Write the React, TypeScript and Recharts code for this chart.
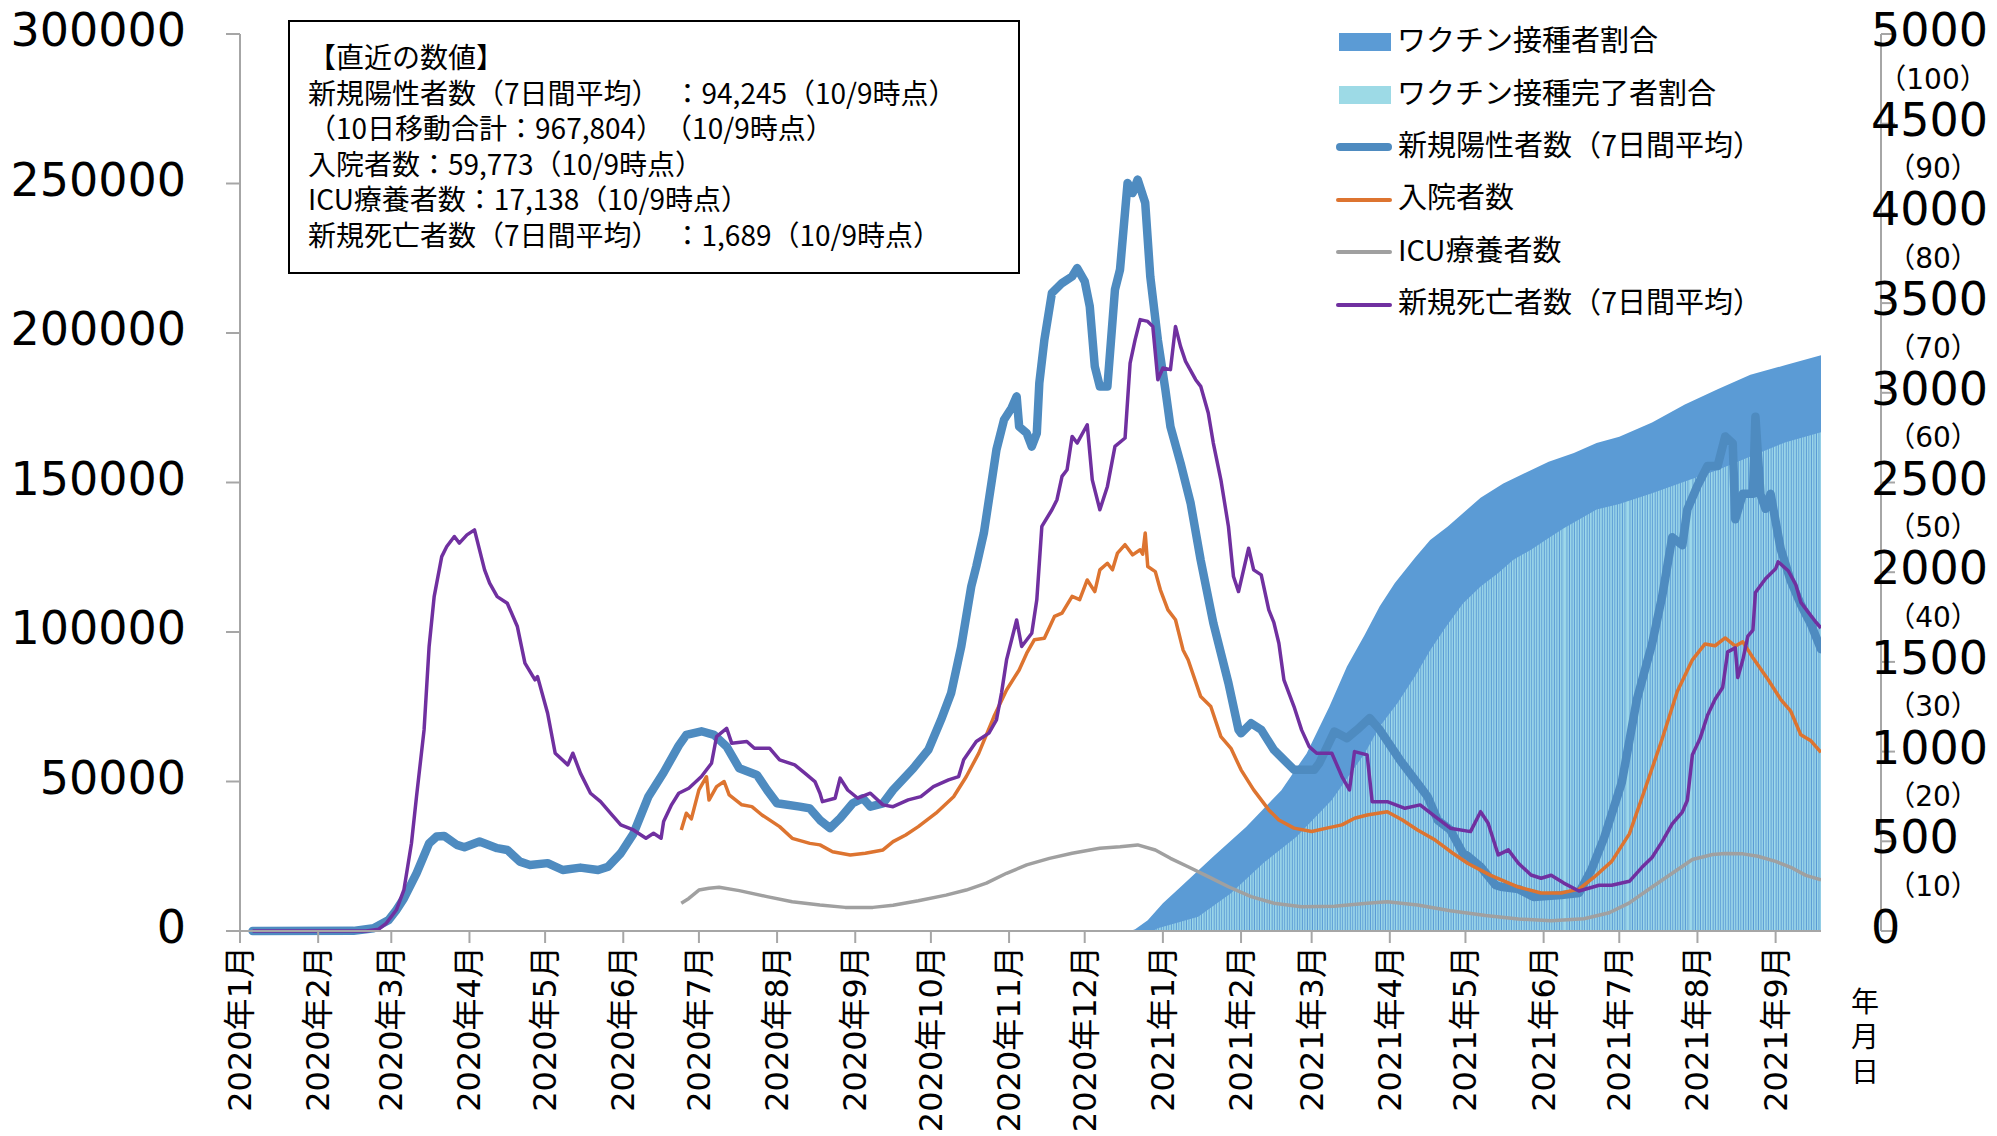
import React from 'react';
import { ComposedChart, Line, Area, XAxis, YAxis } from 'recharts';

// x = days counted from 2020-01-01
const monthTicks = [0, 31, 60, 91, 121, 152, 182, 213, 244, 274, 305, 335, 366, 397, 425, 456, 486, 517, 547, 578, 609];
const monthLabels = [
  '2020年1月', '2020年2月', '2020年3月', '2020年4月', '2020年5月', '2020年6月', '2020年7月',
  '2020年8月', '2020年9月', '2020年10月', '2020年11月', '2020年12月', '2021年1月', '2021年2月',
  '2021年3月', '2021年4月', '2021年5月', '2021年6月', '2021年7月', '2021年8月', '2021年9月',
];
const leftTicks = [0, 50000, 100000, 150000, 200000, 250000, 300000];
const rightTicks = [0, 500, 1000, 1500, 2000, 2500, 3000, 3500, 4000, 4500, 5000];
const pctLabels = ['', '（10）', '（20）', '（30）', '（40）', '（50）', '（60）', '（70）', '（80）', '（90）', '（100）'];

// 新規陽性者数（7日間平均） [day, value]
const casesPts = [
  [5, 0], [45, 50], [53, 900], [59, 3700], [62, 7000], [65, 10900], [70, 19300], [75, 29300], [78, 31600],
  [81, 31800], [86, 28800], [89, 28000], [95, 29900], [102, 27700], [106, 27100], [111, 23200], [115, 22100],
  [122, 22700], [128, 20400], [135, 21200], [142, 20400], [146, 21500], [151, 26000], [156, 32500],
  [162, 45000], [168, 53000], [174, 62000], [177, 65600], [183, 66800], [188, 65600], [193, 61700],
  [198, 54400], [205, 52200], [209, 47200], [213, 42700], [222, 41600], [226, 41000], [230, 37100],
  [234, 34400], [238, 37700], [243, 42700], [247, 44400], [250, 41600], [255, 42700], [259, 47200],
  [267, 54400], [273, 60600], [278, 70600], [282, 79500], [286, 95000], [290, 115200], [292, 121900],
  [295, 133100], [298, 149800], [300, 161000], [303, 171000], [306, 174900], [308, 178800], [309, 168700],
  [312, 166500], [314, 162000], [316, 166500], [317, 183300], [319, 197700], [322, 213400], [326, 216700],
  [330, 218900], [332, 221700], [335, 217300], [337, 208900], [339, 188800], [341, 182100], [344, 182100],
  [347, 214500], [349, 221200], [352, 250200], [354, 246800], [356, 251300], [359, 243500], [361, 218900],
  [364, 197700], [367, 181000], [369, 168700], [373, 156500], [377, 143100], [381, 124000], [386, 103000],
  [392, 82900], [396, 67300], [397, 66100], [401, 69500], [405, 67300], [410, 60600], [418, 53900],
  [426, 53900], [428, 56100], [434, 66700], [439, 64500], [443, 67300], [448, 71200], [452, 67300],
  [460, 57200], [468, 48300], [471, 44900], [475, 37100], [480, 33800], [485, 26000], [487, 25000],
  [492, 21500], [498, 15300], [500, 14800], [507, 14000], [513, 11400], [524, 12000], [531, 12700],
  [536, 20600], [541, 31200], [548, 49700], [554, 77500], [560, 96000], [564, 111900], [568, 131700],
  [572, 129000], [574, 141000], [578, 148900], [582, 155500], [586, 155500], [589, 165400], [592, 163100],
  [593, 137700], [596, 146200], [600, 146200], [601, 172000], [603, 146000], [605, 141200], [607, 146200],
  [611, 127800], [615, 117100], [619, 109200], [623, 102600], [627, 94245],
];

// 入院者数
const hospPts = [
  [175, 33800], [177, 39400], [179, 37500], [182, 47200], [185, 51600], [186, 43800], [189, 48300],
  [192, 50000], [194, 45500], [199, 42200], [203, 41600], [207, 38800], [214, 34900], [219, 31000],
  [226, 29300], [230, 28800], [235, 26500], [242, 25400], [248, 26000], [255, 27100], [259, 29900],
  [264, 32100], [269, 34900], [276, 39400], [283, 44900], [288, 51600], [293, 59500], [299, 71700],
  [304, 80600], [309, 87300], [312, 92900], [315, 97400], [319, 97900], [323, 105200], [326, 106300],
  [330, 111900], [333, 110800], [336, 117400], [339, 113500], [341, 120800], [344, 123000], [346, 120800],
  [348, 126400], [351, 129200], [354, 125800], [357, 127500], [358, 126000], [359, 133100], [360, 121900],
  [363, 120200], [365, 114100], [368, 107400], [371, 104100], [374, 94000], [376, 90700], [381, 78400],
  [385, 75100], [389, 65000], [393, 61100], [397, 53900], [402, 47200], [408, 40500], [412, 37100],
  [418, 34400], [425, 33300], [431, 34400], [437, 35500], [442, 37700], [447, 38800], [455, 39900],
  [461, 37100], [467, 33800], [474, 30400], [481, 26000], [487, 22600], [496, 18600], [507, 14700],
  [516, 12700], [524, 12700], [531, 14000], [537, 18000], [544, 23300], [551, 32500], [557, 47000],
  [564, 64200], [570, 80100], [576, 90700], [581, 96000], [585, 95400], [589, 98000], [593, 95300],
  [596, 96700], [600, 91400], [606, 84100], [611, 77500], [615, 73500], [619, 65600], [623, 63600],
  [627, 59773],
];

// ICU療養者数
const icuPts = [
  [175, 9300], [178, 10900], [182, 13700], [186, 14300], [190, 14600], [198, 13500], [209, 11500],
  [219, 9800], [230, 8700], [240, 7900], [251, 7900], [259, 8600], [269, 10100], [280, 12000],
  [288, 13700], [296, 16000], [304, 19300], [312, 22100], [321, 24300], [330, 26000], [341, 27700],
  [349, 28200], [356, 28800], [363, 27100], [369, 24300], [376, 21500], [384, 18200], [392, 14800],
  [401, 11500], [410, 9300], [421, 8100], [434, 8300], [447, 9300], [455, 9800], [467, 8700],
  [480, 6800], [494, 5200], [507, 4000], [520, 3400], [533, 4100], [543, 6100], [551, 9400],
  [560, 14700], [568, 19300], [576, 23900], [584, 25600], [589, 25900], [596, 25800], [602, 25000],
  [609, 23300], [615, 21300], [621, 18600], [627, 17138],
];

// 新規死亡者数（7日間平均）, right axis
const deathPts = [
  [5, 0], [50, 0], [55, 10], [58, 43], [62, 117], [65, 229], [68, 489], [70, 749], [73, 1121], [75, 1586],
  [77, 1864], [80, 2087], [82, 2143], [85, 2199], [87, 2162], [90, 2208], [93, 2236], [97, 2013],
  [99, 1939], [102, 1864], [106, 1827], [110, 1697], [113, 1493], [117, 1400], [118, 1418], [122, 1214],
  [125, 991], [130, 926], [132, 991], [135, 880], [139, 768], [143, 721], [147, 656], [151, 591],
  [156, 563], [161, 517], [164, 545], [167, 517], [168, 610], [171, 700], [174, 768], [178, 796],
  [183, 861], [187, 935], [189, 1084], [193, 1130], [195, 1047], [201, 1056], [204, 1019], [210, 1019],
  [214, 954], [220, 926], [224, 880], [228, 833], [230, 768], [231, 721], [236, 740], [238, 852],
  [241, 786], [245, 740], [250, 768], [255, 703], [259, 693], [265, 731], [270, 749], [275, 805],
  [281, 842], [285, 861], [287, 954], [292, 1056], [297, 1103], [300, 1177], [302, 1326], [304, 1511],
  [305, 1567], [308, 1734], [310, 1586], [314, 1660], [316, 1846], [318, 2255], [322, 2348], [324, 2404],
  [326, 2534], [328, 2571], [330, 2757], [332, 2720], [336, 2822], [338, 2515], [341, 2348], [344, 2478],
  [347, 2701], [351, 2748], [353, 3166], [355, 3296], [357, 3408], [360, 3398], [362, 3370], [364, 3073],
  [366, 3138], [369, 3129], [371, 3370], [373, 3259], [375, 3175], [379, 3073], [381, 3036], [384, 2887],
  [386, 2720], [389, 2515], [392, 2255], [394, 1976], [396, 1892], [400, 2134], [402, 2013], [405, 1985],
  [408, 1790], [410, 1720], [412, 1604], [414, 1400], [418, 1251], [421, 1121], [424, 1028], [427, 991],
  [433, 991], [437, 861], [440, 786], [442, 1000], [447, 982], [449, 721], [455, 721], [462, 684],
  [468, 703], [474, 637], [480, 573], [488, 554], [492, 665], [495, 601], [499, 424], [503, 452],
  [507, 378], [512, 312], [516, 294], [520, 311], [525, 267], [531, 223], [539, 255], [544, 255],
  [551, 277], [556, 355], [560, 410], [564, 498], [568, 597], [572, 663], [574, 729], [576, 983],
  [579, 1071], [582, 1203], [585, 1292], [588, 1357], [590, 1556], [593, 1578], [594, 1413], [596, 1512],
  [598, 1644], [600, 1677], [601, 1887], [605, 1964], [609, 2019], [610, 2058], [614, 2008], [617, 1931],
  [619, 1832], [622, 1776], [625, 1721], [627, 1689],
];

// ワクチン接種者割合 (%)
const vaccOnePts = [
  [353, 0], [355, 0.2], [360, 1.2], [366, 3.1], [373, 4.9], [386, 8.3], [399, 11.6], [413, 15.7],
  [423, 19.8], [432, 25.0], [439, 29.5], [446, 33.0], [452, 36.2], [458, 38.8], [466, 41.6], [472, 43.6],
  [479, 45.1], [492, 48.3], [501, 49.9], [519, 52.3], [529, 53.3], [538, 54.4], [547, 55.1], [560, 56.7],
  [573, 58.7], [586, 60.4], [599, 62.0], [613, 63.1], [627, 64.2],
];

// ワクチン接種完了者割合 (%)
const vaccFullPts = [
  [362, 0], [364, 0.3], [380, 1.6], [393, 4.2], [406, 7.6], [419, 10.5], [433, 14.6], [446, 19.8],
  [452, 22.8], [459, 25.4], [466, 28.4], [472, 31.3], [478, 33.8], [485, 36.5], [492, 38.4], [499, 39.9],
  [505, 41.4], [512, 42.5], [519, 43.8], [525, 44.9], [538, 47.0], [547, 47.6], [560, 48.8], [573, 50.1],
  [586, 51.4], [599, 52.9], [613, 54.5], [627, 55.6],
];

const infoLines = [
  '【直近の数値】',
  '新規陽性者数（7日間平均）　：94,245（10/9時点）',
  '（10日移動合計：967,804）　（10/9時点）',
  '入院者数：59,773（10/9時点）',
  'ICU療養者数：17,138（10/9時点）',
  '新規死亡者数（7日間平均）　：1,689（10/9時点）',
];

const legendItems = [
  { label: 'ワクチン接種者割合', kind: 'box', color: '#5B9BD5' },
  { label: 'ワクチン接種完了者割合', kind: 'box', color: '#9DDAE6' },
  { label: '新規陽性者数（7日間平均）', kind: 'thick', color: '#4E8BC0' },
  { label: '入院者数', kind: 'line', color: '#DD7430' },
  { label: 'ICU療養者数', kind: 'line', color: '#A0A0A0' },
  { label: '新規死亡者数（7日間平均）', kind: 'line', color: '#7030A0' },
];

const rows = (pts: number[][]) => pts.map(([d, v]) => ({ d, v }));

const NUM_FONT = '"DejaVu Sans", "Noto Sans CJK JP", sans-serif';
const JP_FONT = '"Noto Sans CJK JP", sans-serif';
const AXIS = '#A6A6A6';

const XTick = (props: any) => {
  const { x, payload } = props;
  const label = monthLabels[monthTicks.indexOf(payload.value)];
  const y = 946;
  return (
    <text x={x} y={y} transform={`rotate(-90, ${x}, ${y})`} textAnchor="end" dominantBaseline="central"
      fontSize={32} fontFamily={NUM_FONT} fill="#000">
      {label}
    </text>
  );
};

const LeftTick = (props: any) => {
  const { y, payload } = props;
  return (
    <text x={186} y={y - 4} textAnchor="end" dominantBaseline="central" fontSize={46} fontFamily={NUM_FONT} fill="#000">
      {payload.value}
    </text>
  );
};

const RightTick = (props: any) => {
  const { y, payload } = props;
  const i = rightTicks.indexOf(payload.value);
  return (
    <g>
      <text x={1871} y={y - 4} textAnchor="start" dominantBaseline="central" fontSize={46} fontFamily={NUM_FONT} fill="#000">
        {payload.value}
      </text>
      {i > 0 && (
        <text x={1933} y={y + 45} textAnchor="middle" dominantBaseline="central" fontSize={28}
          fontFamily={NUM_FONT} fill="#000">
          {pctLabels[i]}
        </text>
      )}
    </g>
  );
};

const Swatch = ({ kind, color }: { kind: string; color: string }) => {
  if (kind === 'box') return <div style={{ width: 52, height: 18, background: color, marginTop: 8 }} />;
  const h = kind === 'thick' ? 8 : 4;
  return <div style={{ width: 56, height: h, background: color, borderRadius: h / 2, marginTop: 9, marginLeft: -3 }} />;
};

export default function App() {
  return (
    <div style={{ position: 'absolute', left: 0, top: 0, width: 1997, height: 1136, background: '#fff', overflow: 'hidden' }}>
      <ComposedChart width={1997} height={1136} margin={{ top: 34, right: 0, bottom: 0, left: 40 }}>
        <defs>
          <pattern id="fullStripes" width="2.52" height="10" patternUnits="userSpaceOnUse">
            <rect width="2.52" height="10" fill="#5B9BD5" />
            <rect width="1.5" height="10" fill="#9DD8EA" />
          </pattern>
        </defs>
        <XAxis dataKey="d" type="number" domain={[0, 627]} ticks={monthTicks} interval={0} allowDataOverflow
          height={205} tick={XTick} tickSize={12} stroke={AXIS} strokeWidth={2} />
        <YAxis yAxisId="left" domain={[0, 300000]} ticks={leftTicks} interval={0} width={200}
          tick={LeftTick} tickSize={14} stroke={AXIS} strokeWidth={2} />
        <YAxis yAxisId="right" orientation="right" domain={[0, 5000]} ticks={rightTicks} interval={0} width={176}
          tick={RightTick} tickSize={14} stroke={AXIS} strokeWidth={2} />
        <YAxis yAxisId="pct" orientation="right" hide domain={[0, 100]} />
        <Area yAxisId="pct" data={rows(vaccOnePts)} dataKey="v" type="linear" stroke="none"
          fill="#5B9BD5" fillOpacity={1} isAnimationActive={false} />
        <Area yAxisId="pct" data={rows(vaccFullPts)} dataKey="v" type="linear" stroke="none"
          fill="url(#fullStripes)" fillOpacity={1} isAnimationActive={false} />
        <Line yAxisId="left" data={rows(casesPts)} dataKey="v" type="linear" stroke="#4E8BC0" strokeWidth={8.5}
          dot={false} strokeLinejoin="round" strokeLinecap="round" isAnimationActive={false} />
        <Line yAxisId="left" data={rows(hospPts)} dataKey="v" type="linear" stroke="#DD7430" strokeWidth={3.5}
          dot={false} strokeLinejoin="round" isAnimationActive={false} />
        <Line yAxisId="left" data={rows(icuPts)} dataKey="v" type="linear" stroke="#A0A0A0" strokeWidth={3.5}
          dot={false} strokeLinejoin="round" isAnimationActive={false} />
        <Line yAxisId="right" data={rows(deathPts)} dataKey="v" type="linear" stroke="#7030A0" strokeWidth={3.5}
          dot={false} strokeLinejoin="round" isAnimationActive={false} />
      </ComposedChart>

      <div style={{
        position: 'absolute', left: 288, top: 20, width: 732, height: 254, border: '2.5px solid #000',
        padding: '17px 0 0 18px', boxSizing: 'border-box', fontFamily: JP_FONT, fontSize: 28, lineHeight: '35.5px',
        color: '#000', background: '#fff', whiteSpace: 'nowrap',
      }}>
        {infoLines.map((t) => <div key={t}>{t}</div>)}
      </div>

      {legendItems.map((it, i) => (
        <div key={it.label} style={{
          position: 'absolute', left: 1339, top: 12 + i * 52.4, height: 52.4, display: 'flex', alignItems: 'center',
          fontFamily: JP_FONT, fontSize: 29, color: '#000', whiteSpace: 'nowrap',
        }}>
          <Swatch kind={it.kind} color={it.color} />
          <span style={{ marginLeft: 6 }}>{it.label}</span>
        </div>
      ))}

      <div style={{
        position: 'absolute', left: 1850, top: 983, width: 30, fontFamily: JP_FONT, fontSize: 28,
        lineHeight: '35px', textAlign: 'center', color: '#000',
      }}>
        <div>年</div><div>月</div><div>日</div>
      </div>
    </div>
  );
}
